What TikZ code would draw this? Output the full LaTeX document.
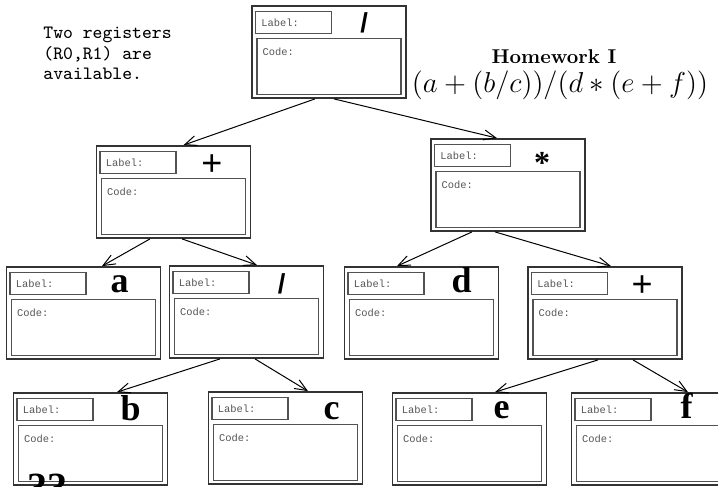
\documentclass[tikz,border=0pt]{standalone}
\usepackage{fontspec}
\usepackage{tikz}
\usetikzlibrary{arrows.meta,positioning}
\newfontfamily\sansfont{Liberation Sans}
\newfontfamily\timesfont{Liberation Serif}
\newfontfamily\courfont{Liberation Mono}
\definecolor{BoxLine}{HTML}{333333}
\definecolor{BoxText}{HTML}{555555}

\begin{document}
\begin{tikzpicture}[
    x=0.5pt, y=-0.5pt,
    cell/.style={
      draw=BoxLine,
      line width=0.9pt,
      minimum width=77pt,
      minimum height=46pt,
      inner sep=0pt
    },
    lbl/.style={
      draw=BoxLine!85,
      line width=0.8pt,
      minimum width=38pt,
      minimum height=11pt,
      text width=32pt,
      inner xsep=3pt,
      inner ysep=1pt,
      align=left,
      font=\courfont\fontsize{5.2}{6}\selectfont,
      text=BoxText
    },
    code/.style={
      draw=BoxLine!85,
      line width=0.8pt,
      minimum width=72pt,
      minimum height=28pt,
      inner sep=0pt,
      label={[codetxt]north west:{Code:}}
    },
    codetxt/.style={
      anchor=north west,
      inner sep=0pt,
      xshift=3pt,
      yshift=-5pt,
      font=\courfont\fontsize{5.2}{6}\selectfont,
      text=BoxText
    },
    slash/.style={anchor=base, inner sep=0pt, font=\sansfont\bfseries\fontsize{13.7}{14}\selectfont},
    plus/.style={anchor=base, inner sep=0pt, font=\sansfont\fontsize{18}{18}\selectfont},
    ltr/.style={anchor=base, inner sep=0pt, font=\timesfont\bfseries\fontsize{18}{18}\selectfont},
    arr/.style={
      -{Straight Barb[length=6pt,width=5pt]},
      line width=0.5pt
    }
  ]

  \clip (0,0) rectangle (718,487);

  % notes
  \node[anchor=north west, align=left, inner sep=0pt,
        font=\ttfamily\fontsize{9.4}{10.25}\selectfont] (regs) at (43,27)
       {Two registers\\(R0,R1) are\\available.};
  \node[anchor=base, font=\bfseries, inner sep=0pt] (title) at (554,63) {Homework I};
  \node[anchor=base, font=\fontsize{15.2}{18}\selectfont, inner sep=0pt] (expr) at (560,92)
       {$(a+(b/c))/(d*(e+f))$};

  % tree cells
  \node[cell] (div)  at (329,52)   {};
  \node[cell] (add)  at (173.5,192) {};
  \node[cell] (mul)  at (508,185)  {};
  \node[cell] (a)    at (83.5,313) {};
  \node[cell] (quot) at (246.5,312) {};
  \node[cell] (d)    at (421.5,313) {};
  \node[cell] (sum)  at (605,313)  {};
  \node[cell] (b)    at (90.5,439) {};
  \node[cell] (c)    at (285.5,438) {};
  \node[cell] (e)    at (469.5,439) {};
  \node[cell] (f)    at (648.5,439) {};

  % label and code fields
  \foreach \n in {div,add,mul,a,quot,d,sum,b,c,e,f} {
    \node[lbl]  (\n-lbl)  at ([shift={(21.1pt,-8.6pt)}]\n.north west) {Label:};
    \node[code] (\n-code) at ([yshift=-7.25pt]\n.center) {};
  }

  % operators and operands
  \node[slash] (div-op)  at ([shift={(56.5pt,-13.8pt)}]div.north west)  {/};
  \node[plus]  (add-op)  at ([shift={(58.2pt,-15.3pt)}]add.north west)  {+};
  \node[ltr, font=\timesfont\bfseries\fontsize{16}{16}\selectfont]
               (mul-op)  at ([shift={(56pt,-17.5pt)}]mul.north west)    {*};
  \node[ltr]   (a-op)    at ([shift={(57pt,-13pt)}]a.north west)        {a};
  \node[slash] (quot-op) at ([shift={(56.5pt,-14pt)}]quot.north west)   {/};
  \node[ltr]   (d-op)    at ([shift={(59pt,-13pt)}]d.north west)        {d};
  \node[plus]  (sum-op)  at ([shift={(57.5pt,-15.3pt)}]sum.north west)  {+};
  \node[ltr]   (b-op)    at ([shift={(59pt,-14pt)}]b.north west)        {b};
  \node[ltr]   (c-op)    at ([shift={(62pt,-14pt)}]c.north west)        {c};
  \node[ltr]   (e-op)    at ([shift={(55pt,-13pt)}]e.north west)        {e};
  \node[ltr]   (f-op)    at ([shift={(58pt,-13pt)}]f.north west)        {f};

  \node[anchor=base west, inner sep=0pt,
        font=\timesfont\bfseries\fontsize{20}{20}\selectfont] (open) at (27,500) {??};

  % Arrows
  \draw[arr] ([xshift=-7pt]div.south)    -- ([xshift=5pt]add.north);
  \draw[arr] ([xshift=2.5pt]div.south)   -- ([xshift=-5.5pt]mul.north);
  \draw[arr] ([xshift=-11.75pt]add.south) -- ([xshift=9.25pt]a.north);
  \draw[arr] ([xshift=4.25pt]add.south)  -- ([xshift=5.25pt]quot.north);
  \draw[arr] ([xshift=-18pt]mul.south)   -- ([xshift=-12.25pt]d.north);
  \draw[arr] ([xshift=-6.5pt]mul.south)  -- ([xshift=3pt]sum.north);
  \draw[arr] ([xshift=-13.25pt]quot.south) -- ([xshift=13.25pt]b.north);
  \draw[arr] ([xshift=4.25pt]quot.south) -- ([xshift=11.25pt]c.north);
  \draw[arr] ([xshift=-3.5pt]sum.south)  -- ([xshift=12.75pt]e.north);
  \draw[arr] ([xshift=14pt]sum.south)    -- ([xshift=19.75pt]f.north);

\end{tikzpicture}
\end{document}
